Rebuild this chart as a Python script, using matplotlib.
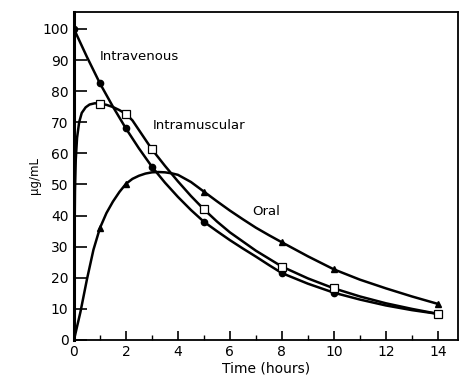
import matplotlib
matplotlib.use("Agg")
import matplotlib.pyplot as plt
from matplotlib.ticker import MultipleLocator

# sampled concentrations (markers)
iv_t = [0, 1, 2, 3, 5, 8, 10, 14]
iv_c = [100, 82.5, 68, 55.7, 38, 21.5, 15.2, 8.4]
im_t = [1, 2, 3, 5, 8, 10, 14]
im_c = [76, 72.7, 61.3, 42, 23.6, 16.6, 8.4]
oral_t = [0, 1, 2, 5, 8, 10, 14]
oral_c = [0, 36, 50.2, 47.7, 31.4, 22.7, 11.6]

# curve traces
iv_line_t = [0, 0.5, 1, 1.5, 2, 2.5, 3, 3.5, 4, 4.5, 5, 5.5, 6, 6.5, 7, 7.5, 8,
             9, 10, 11, 12, 13, 14]
iv_line_c = [100, 91, 82.5, 75, 68, 61.6, 55.7, 50.6, 46, 41.8, 38, 35, 32.1,
             29.4, 26.8, 24.1, 21.5, 18.1, 15.2, 13, 11.1, 9.6, 8.4]
im_line_t = [0, 0.02, 0.04, 0.07, 0.12, 0.2, 0.3, 0.45, 0.6, 0.8, 1, 1.25, 1.5,
             1.75, 2, 2.25, 2.5, 2.75, 3, 3.5, 4, 4.5, 5, 5.5, 6, 7, 8, 9, 10,
             11, 12, 13, 14]
im_line_c = [0, 30, 48, 58, 65, 70, 73, 74.8, 75.7, 76.1, 76, 75.6, 74.9,
             73.9, 72.7, 70.6, 67.5, 64.4, 61.3, 56, 51, 46.3, 42, 38.1, 34.6,
             28.7, 23.6, 19.8, 16.6, 14, 11.8, 10, 8.4]
oral_line_t = [0, 0.25, 0.5, 0.75, 1, 1.25, 1.5, 1.75, 2, 2.25, 2.5, 2.75, 3,
               3.25, 3.5, 3.75, 4, 4.5, 5, 5.5, 6, 6.5, 7, 7.5, 8, 9, 10, 11,
               12, 13, 14]
oral_line_c = [0, 9, 19.5, 29, 36, 40.8, 44.5, 47.6, 50.2, 51.8, 52.8, 53.5,
               53.9, 54, 53.9, 53.6, 53.1, 50.8, 47.7, 44.6, 41.6, 38.8, 36.1,
               33.7, 31.4, 26.9, 22.7, 19.4, 16.6, 14, 11.6]

fig = plt.figure(figsize=(4.74, 3.82), dpi=100)
ax = fig.add_axes([0.156, 0.110, 0.810, 0.859])

lw = 1.8
ax.plot(iv_line_t, iv_line_c, color='black', lw=lw, solid_joinstyle='round')
ax.plot(im_line_t, im_line_c, color='black', lw=lw, solid_joinstyle='round')
ax.plot(oral_line_t, oral_line_c, color='black', lw=lw, solid_joinstyle='round')
ax.plot(iv_t, iv_c, 'o', color='black', ms=4.5)
ax.plot(im_t, im_c, 's', mfc='white', mec='black', mew=0.9, ms=6.2)
ax.plot(oral_t, oral_c, '^', color='black', ms=5)

ax.text(1.0, 91, 'Intravenous', fontsize=9.5, va='center')
ax.text(3.05, 68.8, 'Intramuscular', fontsize=9.5, va='center')
ax.text(6.85, 41.3, 'Oral', fontsize=9.5, va='center')

ax.set_xlim(0, 14.77)
ax.set_ylim(0, 105.5)
ax.xaxis.set_major_locator(MultipleLocator(2))
ax.xaxis.set_minor_locator(MultipleLocator(1))
ax.yaxis.set_major_locator(MultipleLocator(10))
ax.tick_params(axis='y', direction='in', length=9.5, width=1.2, labelsize=10, pad=4)
ax.tick_params(axis='x', which='major', direction='in', length=6.5, width=1.2, labelsize=10)
ax.tick_params(axis='x', which='minor', direction='in', length=3.5, width=1.0)
for s in ax.spines.values():
    s.set_linewidth(1.3)
ax.spines['left'].set_linewidth(2.2)

ax.set_xlabel('Time (hours)', fontsize=10, labelpad=2)
ax.set_ylabel('\u03bcg/mL', fontsize=8.5)
ax.yaxis.set_label_coords(-0.085, 0.5)

fig.savefig('out.png', dpi=100)
